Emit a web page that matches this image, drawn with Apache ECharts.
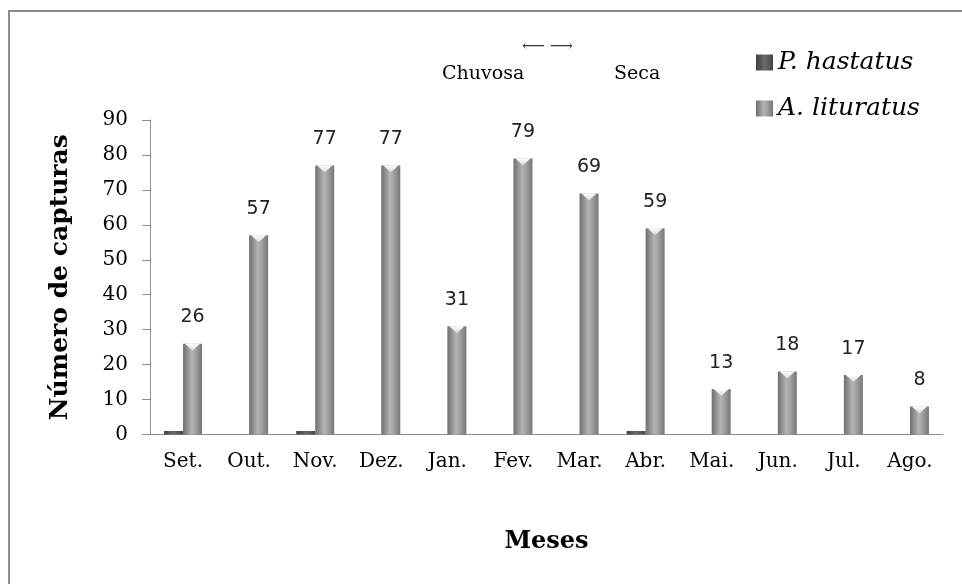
<!DOCTYPE html>
<html>
<head>
<meta charset="utf-8">
<script src="https://cdn.jsdelivr.net/npm/echarts@6/dist/echarts.min.js"></script>
<style>html,body{margin:0;padding:0;background:#fff;}#c{width:962px;height:584px;}</style>
</head>
<body>
<div id="c"></div>
<script>
const categories = ['Set.','Out.','Nov.','Dez.','Jan.','Fev.','Mar.','Abr.','Mai.','Jun.','Jul.','Ago.'];
const pHastatus = [1,0,1,0,0,0,0,1,0,0,0,0];
const aLituratus = [26,57,77,77,31,79,69,59,13,18,17,8];
const seriesNames = ['P. hastatus','A. lituratus'];
const yTicks = {min:0, max:90, interval:10};

const serif = 'DejaVu Serif';
const chart = echarts.init(document.getElementById('c'), null, {renderer:'canvas'});
const gradA = new echarts.graphic.LinearGradient(0,0,1,0,[
  {offset:0,color:'#6f6f6f'},{offset:0.45,color:'#b3b3b3'},{offset:0.6,color:'#a8a8a8'},{offset:1,color:'#767676'}]);
const gradP = new echarts.graphic.LinearGradient(0,0,1,0,[
  {offset:0,color:'#3f3f3f'},{offset:0.5,color:'#6a6a6a'},{offset:1,color:'#454545'}]);
const gradTop = new echarts.graphic.LinearGradient(0,0,0,1,[
  {offset:0,color:'#ffffff'},{offset:1,color:'#d8d8d8'}]);

chart.setOption({
  backgroundColor:'#fff',
  animation:false,
  grid:{left:150,right:19,top:120,bottom:149.5,containLabel:false},
  legend:{
    data:seriesNames, orient:'vertical', left:751, top:45,
    itemWidth:17, itemHeight:16, itemGap:21, icon:'rect',
    textStyle:{fontFamily:serif, fontStyle:'italic', fontSize:25, color:'#000'}
  },
  xAxis:{
    type:'category', data:categories,
    axisLine:{lineStyle:{color:'#8c8c8c',width:1}},
    axisTick:{length:8, lineStyle:{color:'#8c8c8c'}},
    axisLabel:{margin:17, fontFamily:serif, fontSize:20, color:'#000'},
    name:'Meses', nameLocation:'middle', nameGap:95,
    nameTextStyle:{fontFamily:serif, fontWeight:'bold', fontSize:24, color:'#000'}
  },
  yAxis:{
    type:'value', min:yTicks.min, max:yTicks.max, interval:yTicks.interval,
    splitLine:{show:false},
    axisLine:{show:true, lineStyle:{color:'#8c8c8c',width:1}},
    axisTick:{show:true, length:8, lineStyle:{color:'#8c8c8c'}},
    axisLabel:{margin:22, fontFamily:serif, fontSize:20, color:'#000'},
    name:'Número de capturas', nameLocation:'middle', nameGap:77,
    nameTextStyle:{fontFamily:serif, fontWeight:'bold', fontSize:25, color:'#000'}
  },
  series:[
    {name:seriesNames[0], type:'bar', data:pHastatus, barWidth:19, barGap:'0%',
     itemStyle:{color:gradP}},
    {name:seriesNames[1], type:'bar', data:aLituratus, barWidth:19, barGap:'0%',
     itemStyle:{color:gradA},
     label:{show:true, position:'top', distance:17, fontFamily:'DejaVu Sans', fontSize:19, color:'#222'}},
    {name:'bevel', type:'pictorialBar', data:aLituratus, symbol:'path://M0,0 L10,0 L5,4 Z',
     symbolPosition:'end', symbolSize:[15,7], symbolOffset:[9.5,0], z:5,
     itemStyle:{color:gradTop}, silent:true, label:{show:false}}
  ],
  graphic:[
    {type:'rect', shape:{x:8,y:10,width:954,height:2}, style:{fill:'#8c8c8c'}, silent:true},
    {type:'rect', shape:{x:8,y:10,width:2,height:574}, style:{fill:'#8c8c8c'}, silent:true},
    {type:'text', left:522, top:39, style:{text:'\u27F5 \u27F6', fontFamily:serif, fontSize:16, fill:'#333'}},
    {type:'text', left:442, top:65, style:{text:'Chuvosa', fontFamily:serif, fontSize:19, fill:'#000'}},
    {type:'text', left:614, top:65, style:{text:'Seca', fontFamily:serif, fontSize:19, fill:'#000'}}
  ]
});
</script>
</body>
</html>
